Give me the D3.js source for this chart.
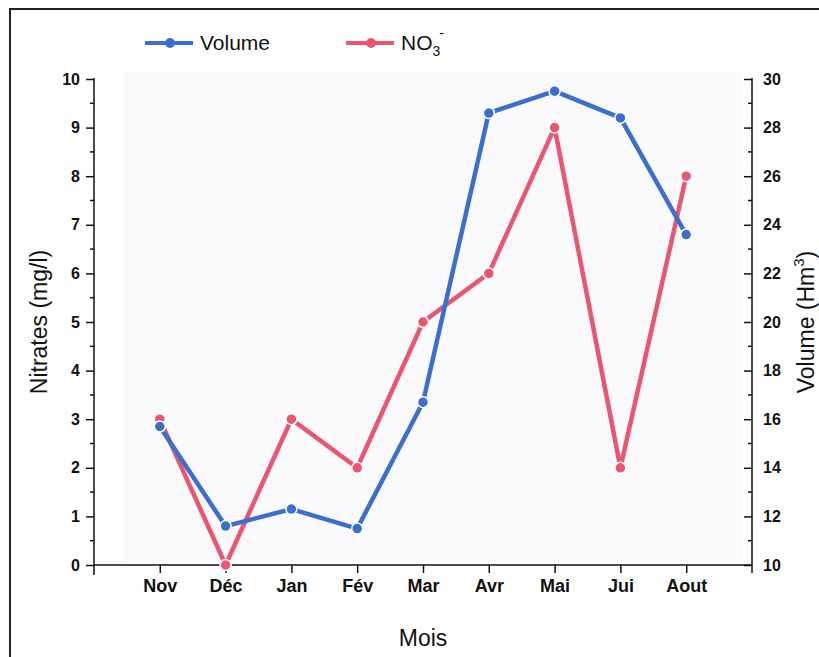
<!DOCTYPE html>
<html>
<head>
<meta charset="utf-8">
<script src="https://cdn.jsdelivr.net/npm/d3@7"></script>
<style>
  body { margin: 0; background: #fff; }
  text { font-family: "Liberation Sans", Arial, sans-serif; fill: #111; }
  .tick text { font-weight: bold; font-size: 16px; }
  .xaxis .tick text { font-size: 18px; }
  .axis path, .axis line { stroke: #111; stroke-width: 1.5; }
</style>
</head>
<body>
<div id="chart"></div>
<script>
// data
var months = ["Nov", "Déc", "Jan", "Fév", "Mar", "Avr", "Mai", "Jui", "Aout"];
var nitrates = [3, 0, 3, 2, 5, 6, 9, 2, 8];
var volume = [15.7, 11.6, 12.3, 11.5, 16.7, 28.6, 29.5, 28.4, 23.6];
var leftTicks = [0, 1, 2, 3, 4, 5, 6, 7, 8, 9, 10];
var rightTicks = [10, 12, 14, 16, 18, 20, 22, 24, 26, 28, 30];

var blue = "#3b6fce", red = "#e8566f";

var W = 819, H = 657;
var margin = {top: 79, right: 67, bottom: 92, left: 94},
    width = W - margin.left - margin.right,
    height = H - margin.top - margin.bottom;

var svg = d3.select("#chart").append("svg")
    .attr("width", W)
    .attr("height", H);

// outer frame (left and top edges only visible)
svg.append("path")
    .attr("d", "M10," + H + "V9H" + W)
    .attr("fill", "none")
    .attr("stroke", "#222")
    .attr("stroke-width", 2);

var g = svg.append("g")
    .attr("transform", "translate(" + margin.left + "," + margin.top + ")");

// scales
var x = d3.scaleLinear().domain([0, months.length + 1]).range([0, width]);
var yL = d3.scaleLinear().domain([0, 10]).range([height, 0]);
var yR = d3.scaleLinear().domain([10, 30]).range([height, 0]);

// faint plot background
g.append("rect")
    .attr("x", 30).attr("y", -8)
    .attr("width", width - 40).attr("height", height + 4)
    .attr("fill", "#fafafd");

// minor ticks
var minorL = d3.range(0.5, 10, 1);
g.append("g").selectAll("line").data(minorL).join("line")
    .attr("x1", -4).attr("x2", 0)
    .attr("y1", d => yL(d)).attr("y2", d => yL(d))
    .attr("stroke", "#111").attr("stroke-width", 1.5);
var minorR = d3.range(11, 30, 2);
g.append("g").selectAll("line").data(minorR).join("line")
    .attr("x1", width - 4).attr("x2", width)
    .attr("y1", d => yR(d)).attr("y2", d => yR(d))
    .attr("stroke", "#111").attr("stroke-width", 1.5);

// left axis
var axL = g.append("g").attr("class", "axis")
    .call(d3.axisLeft(yL).tickValues(leftTicks).tickSize(8).tickSizeOuter(0).tickPadding(6));
axL.select(".domain").attr("d", "M0,-1V" + (height + 10));

// right axis (ticks inward)
var axR = g.append("g").attr("class", "axis")
    .attr("transform", "translate(" + width + ",0)")
    .call(d3.axisRight(yR).tickValues(rightTicks).tickSize(-8).tickSizeOuter(0));
axR.select(".domain").attr("d", "M0,-1V" + (height + 8));
axR.selectAll(".tick text").attr("x", 11);

// bottom axis
var axB = g.append("g").attr("class", "axis xaxis")
    .attr("transform", "translate(0," + height + ")")
    .call(d3.axisBottom(x).tickValues(d3.range(1, months.length + 1))
      .tickFormat(d => months[d - 1]).tickSize(8).tickSizeOuter(0).tickPadding(6));
axB.select(".domain").attr("d", "M0,0H" + width);

// lines and markers
function series(vals, yScale, color) {
  var line = d3.line()
      .x((d, i) => x(i + 1))
      .y(d => yScale(d));
  g.append("path")
      .datum(vals)
      .attr("d", line)
      .attr("fill", "none")
      .attr("stroke", color)
      .attr("stroke-width", 4.5);
  g.append("g").selectAll("circle").data(vals).join("circle")
      .attr("cx", (d, i) => x(i + 1))
      .attr("cy", d => yScale(d))
      .attr("r", 5.5)
      .attr("fill", color)
      .attr("stroke", "#fff")
      .attr("stroke-width", 1.5);
}
series(nitrates, yL, red);
series(volume, yR, blue);

// axis titles
svg.append("text")
    .attr("transform", "translate(47," + (margin.top + height / 2) + ")rotate(-90)")
    .style("text-anchor", "middle")
    .style("font-size", "23px")
    .text("Nitrates (mg/l)");

var rt = svg.append("text")
    .attr("transform", "translate(814," + (margin.top + height / 2) + ")rotate(-90)")
    .style("text-anchor", "middle")
    .style("font-size", "23px");
rt.append("tspan").text("Volume (Hm");
rt.append("tspan").attr("dy", -10).style("font-size", "15px").text("3");
rt.append("tspan").attr("dy", 10).text(")");

svg.append("text")
    .attr("x", margin.left + x(5))
    .attr("y", 646)
    .style("text-anchor", "middle")
    .style("font-size", "23px")
    .text("Mois");

// legend
var legend = [{name: "Volume", color: blue, x: 145}, {name: "NO", color: red, x: 346}];
legend.forEach(function(d) {
  var lg = svg.append("g").attr("transform", "translate(" + d.x + ",43)");
  lg.append("line").attr("x1", 0).attr("x2", 48)
    .attr("stroke", d.color).attr("stroke-width", 4);
  lg.append("circle").attr("cx", 25).attr("r", 5).attr("fill", d.color);
  var t = lg.append("text").attr("x", 55).attr("y", 7).style("font-size", "21px").text(d.name);
  if (d.name === "NO") {
    t.append("tspan").attr("dy", 6).style("font-size", "14px").text("3");
    t.append("tspan").attr("dy", -18).attr("dx", -1).style("font-size", "14px").text("-");
  }
});
</script>
</body>
</html>
